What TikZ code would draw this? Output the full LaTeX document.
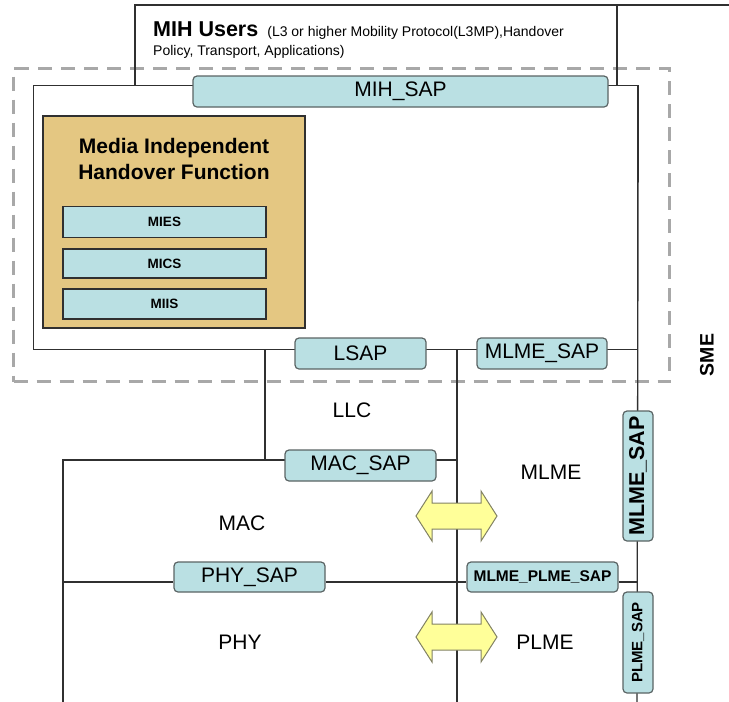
\documentclass[tikz,border=0pt]{standalone}
\usepackage{fontspec}
\setmainfont{Liberation Sans}
\usetikzlibrary{calc}
\definecolor{linegray}{RGB}{48,48,48}
\definecolor{sapfill}{RGB}{186,224,227}
\definecolor{sapline}{RGB}{90,100,100}
\definecolor{mihffill}{RGB}{228,199,130}
\definecolor{dashgray}{RGB}{168,168,168}
\definecolor{arrowfill}{RGB}{255,255,153}
\definecolor{arrowline}{RGB}{130,130,100}
\begin{document}
\begin{tikzpicture}[x=1pt,y=-1pt,
  ln/.style={draw=linegray, line width=1.3pt},
  frame/.style={ln, inner sep=0pt, anchor=north west},
  sapbox/.style={draw=sapline, fill=sapfill, rounded corners=4pt, line width=1.2pt,
    inner sep=0pt, font=\fontsize{21}{25}\selectfont},
  sapsmall/.style={sapbox, font=\bfseries\fontsize{15.5}{18}\selectfont},
  svcbox/.style={draw=linegray, fill=sapfill, line width=1.2pt, inner sep=0pt,
    minimum width=203pt, font=\bfseries\fontsize{13.5}{16}\selectfont},
  layer/.style={font=\fontsize{21}{25}\selectfont, inner sep=0pt},
  dblarrow/.style={draw=arrowline, fill=arrowfill, line width=1pt, line join=miter},
  smebox/.style={draw=dashgray, line width=3pt, dash pattern=on 14pt off 9pt,
    inner sep=0pt, anchor=north west}]
\useasboundingbox (0,0) rectangle (729,702);

% SME management boundary
\node[smebox, minimum width=656pt, minimum height=313pt] (sme) at (12,67) {};
\node[font=\bfseries\fontsize{19.5}{22}\selectfont, rotate=90, inner sep=0pt] (smelabel) at (707,355) {SME};

% MIH users box (open at the bottom and to the right)
\coordinate (uTL) at (135,5);
\coordinate (uTR) at (617,5);
\coordinate (uEnd) at (729,5);
\coordinate (uBL) at (135,85);
\coordinate (uBR) at (617,85);
\draw[ln] (uBL) -- (uTL) -- (uEnd);
\draw[ln] (uTR) -- (uBR);
\node[anchor=base west, inner sep=0pt] (users1) at (153,36)
  {{\bfseries\fontsize{21.5}{25}\selectfont MIH Users}\hspace{9pt}{\fontsize{14}{17}\selectfont(L3 or higher Mobility Protocol(L3MP),Handover}};
\node[anchor=base west, inner sep=0pt, font=\fontsize{14}{17}\selectfont] (users2) at (153,55)
  {Policy, Transport, Applications)};

% MIH function host box
\node[frame, minimum width=604pt, minimum height=264pt] (mihbox) at (33,85) {};
\coordinate (rbot) at (637,702);
\draw[ln] (mihbox.north east) -- (rbot);

\node[sapbox, minimum width=415pt, minimum height=31pt] (mihsap) at (400.5,91.5) {MIH\_SAP};

% Media Independent Handover Function
\node[draw=linegray, fill=mihffill, line width=1.2pt, inner sep=0pt,
  minimum width=262pt, minimum height=212pt] (mihf) at (174,222) {};
\node[align=center, inner sep=0pt, font=\bfseries\fontsize{21}{26}\selectfont] (mihftitle) at (174,159)
  {Media Independent\\Handover Function};
\node[svcbox, minimum height=31pt] (mies) at (164.5,222) {MIES};
\node[svcbox, minimum height=29pt] (mics) at (164.5,263.5) {MICS};
\node[svcbox, minimum height=30pt] (miis) at (164.5,304) {MIIS};

% Layer boundaries below the MIH box
\coordinate (llcTop) at (265,349);
\coordinate (llcBot) at (265,460);
\coordinate (midTop) at (457,349);
\coordinate (midBot) at (457,702);
\coordinate (macTL) at (63,460);
\coordinate (macBL) at (63,702);
\coordinate (macTR) at (457,460);
\coordinate (phyL) at (63,582);
\draw[ln] (llcTop) -- (llcBot);
\draw[ln] (midTop) -- (midBot);
\draw[ln] (macBL) -- (macTL) -- (macTR);

% Service access points
\node[sapbox, minimum width=131pt, minimum height=31pt] (lsap) at (360.5,353.5) {LSAP};
\node[sapbox, minimum width=130pt, minimum height=31pt] (mlmesap) at (542,353.5) {MLME\_SAP};
\node[sapbox, minimum width=151pt, minimum height=31pt] (macsap) at (360.5,465.5) {MAC\_SAP};
\node[sapbox, minimum width=151pt, minimum height=30pt] (physap) at (249.5,577) {PHY\_SAP};
\node[sapsmall, minimum width=151pt, minimum height=30pt] (mlmeplmesap) at (542.5,577) {MLME\_PLME\_SAP};
\draw[ln] (phyL) -- (physap.west |- phyL);
\draw[ln] (physap.east |- phyL) -- (mlmeplmesap.west |- phyL);
\draw[ln] (mlmeplmesap.east |- phyL) -- (rbot |- phyL);
\node[sapbox, font=\bfseries\fontsize{21.5}{25}\selectfont, rotate=90,
  minimum width=130pt, minimum height=30pt] (mlmesapv) at (638,476) {MLME\_SAP};
\node[sapsmall, font=\bfseries\fontsize{15}{18}\selectfont, rotate=90,
  minimum width=101pt, minimum height=30pt] (plmesap) at (638,642.5) {PLME\_SAP};

% Layer names
\node[layer] (llc) at (352,410) {LLC};
\node[layer] (mac) at (242,523) {MAC};
\node[layer] (mlme) at (551,472) {MLME};
\node[layer] (phy) at (240,642) {PHY};
\node[layer] (plme) at (545,642) {PLME};

% Management exchanges between the layers and their entities
\coordinate (arrA) at (456.5,516);
\coordinate (arrB) at (456.5,637);
\foreach \c in {arrA,arrB}
  \draw[dblarrow, shift={(\c)}] (-40.5,0) -- (-24.5,-25) -- (-24.5,-13) -- (24.5,-13)
    -- (24.5,-25) -- (40.5,0) -- (24.5,25) -- (24.5,13) -- (-24.5,13) -- (-24.5,25) -- cycle;
\end{tikzpicture}
\end{document}
